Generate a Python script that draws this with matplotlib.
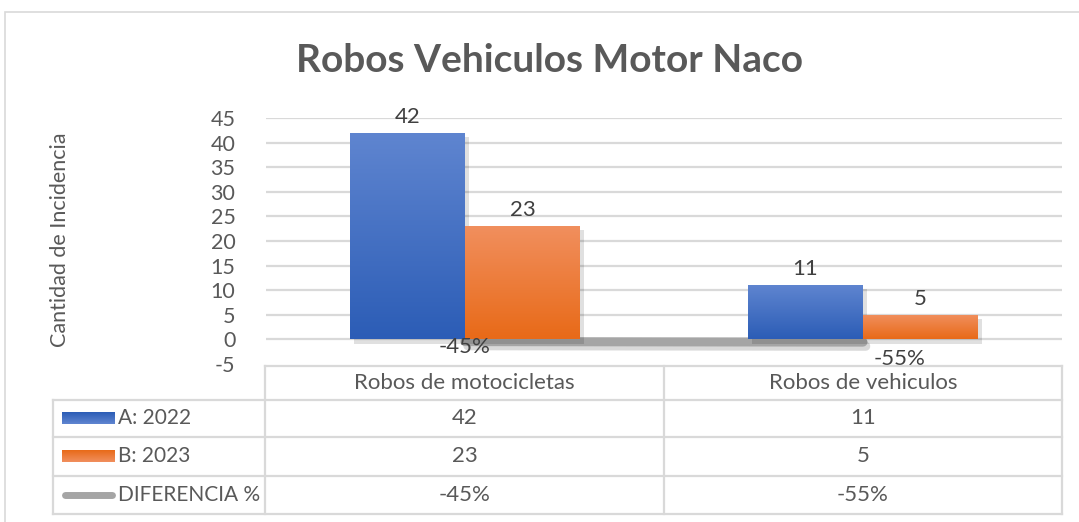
import matplotlib.pyplot as plt
import matplotlib.patheffects as pe
from matplotlib.patches import Rectangle
from matplotlib.lines import Line2D
import numpy as np

plt.rcParams['font.family'] = ['Lato', 'DejaVu Sans']

# datos
categorias = ['Robos de motocicletas', 'Robos de vehiculos']
serie_a = [42, 11]
serie_b = [23, 5]
diferencia = [-0.45, -0.55]
nombres = ['A: 2022', 'B: 2023', 'DIFERENCIA %']
titulo = 'Robos Vehiculos Motor Naco'
y_ticks = list(range(-5, 50, 5))

txt = '#595959'
grid_c = '#d9d9d9'
azul_top, azul_bot = '#5f85d0', '#2c5db6'
nar_top, nar_bot = '#f18f5e', '#e86a18'
gris = '#a5a5a5'

W, H = 1079, 522
fig = plt.figure(figsize=(W / 100, H / 100), dpi=100)

# marco exterior
fig.patches.append(Rectangle((5 / W, -0.1), 2, 1.1 - 12 / H, transform=fig.transFigure,
                             fill=False, edgecolor='#d9d9d9', lw=1.2))

ax = fig.add_axes([266 / W, 1 - 364 / H, (1062 - 266) / W, (364 - 118) / H])
ax.set_xlim(-0.5, 1.5)
ax.set_ylim(-5, 45)
ax.set_yticks(y_ticks)
ax.set_yticklabels([str(t) for t in y_ticks], fontsize=15.5, color=txt)
ax.tick_params(axis='y', length=0, pad=22)
ax.set_xticks([])
for s in ax.spines.values():
    s.set_visible(False)
for t in y_ticks[1:]:
    ax.axhline(t, color=grid_c, lw=1.6, zorder=0)

fig.text(60 / W, 1 - 240 / H, 'Cantidad de Incidencia', rotation=90, ha='center', va='center',
         fontsize=15.5, color=txt)
fig.text(550 / W, 1 - 60 / H, titulo, ha='center', va='center', fontsize=28,
         fontweight='bold', color=txt)

x = np.arange(len(categorias))
bw = 115 / 398


def gradient_bars(bars, c_top, c_bot):
    grad = np.linspace(0, 1, 100).reshape(-1, 1)
    cmap = plt.matplotlib.colors.LinearSegmentedColormap.from_list('g', [c_bot, c_top])
    for b in bars:
        b.set_path_effects([pe.SimplePatchShadow(offset=(3, -3), shadow_rgbFace='#000000', alpha=0.12),
                            pe.Normal()])
        x0, y0 = b.get_x(), b.get_y()
        im = ax.imshow(grad, extent=[x0, x0 + b.get_width(), y0, y0 + b.get_height()],
                       origin='lower', cmap=cmap, aspect='auto', zorder=3)
        im.set_clip_path(b)


# linea diferencia
ax.plot(x, diferencia, color=gris, lw=6.5, solid_capstyle='round', zorder=2,
        path_effects=[pe.SimpleLineShadow(offset=(2, -3), alpha=0.15), pe.Normal()])

ba = ax.bar(x - bw / 2, serie_a, bw, color=azul_bot, zorder=3)
bb = ax.bar(x + bw / 2, serie_b, bw, color=nar_bot, zorder=3)
gradient_bars(ba, azul_top, azul_bot)
gradient_bars(bb, nar_top, nar_bot)
ax.set_xlim(-0.5, 1.5)
ax.set_ylim(-5, 45)

for bars, vals in ((ba, serie_a), (bb, serie_b)):
    for b, v in zip(bars, vals):
        ax.annotate(str(v), (b.get_x() + b.get_width() / 2, v), xytext=(0, 6),
                    textcoords='offset pixels', ha='center', va='bottom',
                    fontsize=16, color='#404040', zorder=5, annotation_clip=False)

offs = [(0, -5), (37, -17)]
for xi, d, o in zip(x, diferencia, offs):
    ax.annotate(f'{d:.0%}', (xi, d), xytext=o, textcoords='offset pixels',
                ha='center', va='center', fontsize=16, color='#404040', zorder=5,
                annotation_clip=False)

# tabla de datos
tx = fig.add_axes([53 / W, 1 - 514 / H, (1062 - 53) / W, (514 - 366) / H])
tx.axis('off')
px0, px1 = 53, 1062
rows = [366, 400, 437, 476, 514]
col_x = [265, 664, 1062]
lc = '#d9d9d9'
lw = 1.6
tx.plot([265, 1062], [366, 366], color=lc, lw=lw, clip_on=False)
for r in rows[1:]:
    tx.plot([53, 1062], [r, r], color=lc, lw=lw, clip_on=False)
tx.plot([53, 53], [400, 514], color=lc, lw=lw, clip_on=False)
for c in col_x:
    tx.plot([c, c], [366, 514], color=lc, lw=lw, clip_on=False)

centers = [(col_x[i] + col_x[i + 1]) / 2 for i in range(len(categorias))]
for cx, cat in zip(centers, categorias):
    tx.text(cx, (rows[0] + rows[1]) / 2, cat, ha='center', va='center', fontsize=16, color=txt)

valores = [serie_a, serie_b, [f'{d:.0%}' for d in diferencia]]
for i, vals in enumerate(valores):
    cy = (rows[i + 1] + rows[i + 2]) / 2
    for cx, v in zip(centers, vals):
        tx.text(cx, cy, str(v), ha='center', va='center', fontsize=16, color=txt)
    tx.text(118, cy, nombres[i], ha='left', va='center', fontsize=15, color=txt)

# claves de leyenda
for i, (ct, cb) in enumerate(((azul_top, azul_bot), (nar_top, nar_bot))):
    cy = (rows[i + 1] + rows[i + 2]) / 2
    grad = np.linspace(0, 1, 50).reshape(-1, 1)
    cmap = plt.matplotlib.colors.LinearSegmentedColormap.from_list('k', [cb, ct])
    tx.imshow(grad, extent=[62, 115, cy + 6, cy - 6], origin='upper', cmap=cmap,
              aspect='auto', zorder=3)
cy = (rows[3] + rows[4]) / 2
tx.add_line(Line2D([65, 112], [cy, cy], color=gris, lw=5, solid_capstyle='round'))
tx.set_xlim(px0, px1)
tx.set_ylim(514, 366)

fig.savefig('out.png', dpi=100)
